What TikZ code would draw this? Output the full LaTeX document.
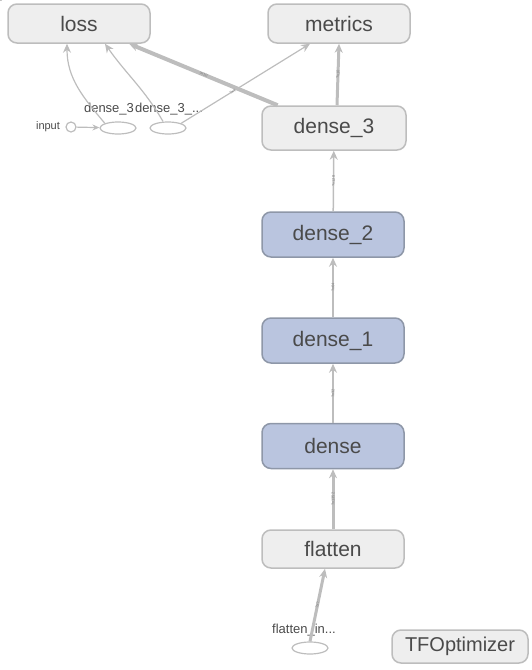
\documentclass[tikz,border=0pt]{standalone}
\usepackage{fontspec}
\setmainfont{Liberation Sans}
\usetikzlibrary{calc, arrows.meta, shapes.geometric}
\definecolor{opfill}{HTML}{EEEEEE}
\definecolor{opdraw}{HTML}{BDBDBD}
\definecolor{lyfill}{HTML}{BAC5DF}
\definecolor{lydraw}{HTML}{8E97A8}
\definecolor{edgec}{HTML}{BDBDBD}
\definecolor{txt}{HTML}{4A4A4A}
\begin{document}
\begin{tikzpicture}[x=1pt,y=-1pt,
        opbox/.style={draw=opdraw, fill=opfill, line width=1.5pt, rounded corners=9pt, minimum width=142pt, minimum height=39pt, text=txt, font=\fontsize{21}{22}\selectfont},
        laybox/.style={opbox, draw=lydraw, fill=lyfill, minimum height=45pt},
        cnode/.style={draw=opdraw, line width=1.2pt, ellipse, minimum width=36pt, minimum height=12pt, inner sep=0pt},
        edge/.style={draw=edgec, line width=1.5pt, -{Stealth[length=9pt,width=8pt]}},
        lab/.style={text=txt, font=\fontsize{13}{13}\selectfont},
        elab/.style={midway, sloped, text=gray, font=\fontsize{4}{4}\selectfont, inner sep=1pt}]
                \useasboundingbox (0,0) rectangle (531,670);
                \node[opbox] (loss) at (79,23.5) {loss};
                \node[opbox] (metrics) at (339,23.5) {metrics};
                \node[opbox, minimum width=144pt, minimum height=44pt] (dense3) at (334,128) {dense\_3};
                \node[laybox] (dense2) at (333,234.5) {dense\_2};
                \node[laybox] (dense1) at (333,340.5) {dense\_1};
                \node[laybox] (dense0) at (333,446) {dense};
                \node[opbox, minimum height=38pt] (flatten) at (333,549) {flatten};
                \node[opbox, minimum width=136pt, minimum height=33pt, font=\fontsize{20}{21}\selectfont] (tfopt) at (460,646.5) {TFOptimizer};
                \node[cnode] (flatin) at (310,648) {};
                \node[lab] at (304,630) {flatten\_in...};
                \node[cnode] (dloss) at (118,128) {};
                \node[cnode] (dmet) at (168,128) {};
                \node[draw=opdraw, line width=1.2pt, circle, minimum size=10pt, inner sep=0pt] (input) at (71,127) {};
                \node[lab, font=\fontsize{11}{11}\selectfont] at (48,127) {input};
                \node[lab] at (109,109) {dense\_3};
                \node[lab] at (169,109) {dense\_3\_...};
                % layer chain
                \draw[edge, line width=3pt] (flatin.north) -- ([xshift=-8pt]flatten.south) node[elab]{?x?};
                \draw[edge, line width=3pt] (flatten) -- (dense0) node[elab]{?x1352};
                \draw[edge] (dense0) -- (dense1) node[elab]{?x32};
                \draw[edge] (dense1) -- (dense2) node[elab]{?x64};
                \draw[edge] (dense2) -- (dense3) node[elab]{?x128};
                % outputs
                \draw[edge, line width=3pt] ([xshift=3pt]dense3.north) -- (metrics.south) node[elab]{?x10};
                \draw[edge, line width=4pt] (dense3.158) -- (loss.-22) node[elab, pos=0.5]{?x10};
                \draw[edge, line width=1.2pt] (dmet.north east) -- ([xshift=-29pt]metrics.south) node[elab, pos=0.4]{?x?};
                \draw[edge, line width=1.2pt] (dloss.north west) to[out=130, in=-90] ([xshift=-12pt]loss.south) node[elab, pos=0.45]{?x?};
                \draw[edge, line width=1.2pt] ([xshift=-5pt]dmet.north) to[out=120, in=-55] ([xshift=26pt]loss.south) node[elab, pos=0.45]{?x?};
                \draw[edge, line width=1.2pt, -{Stealth[length=7pt,width=6pt]}] (input) -- (dloss);
            \end{tikzpicture}
\end{document}
